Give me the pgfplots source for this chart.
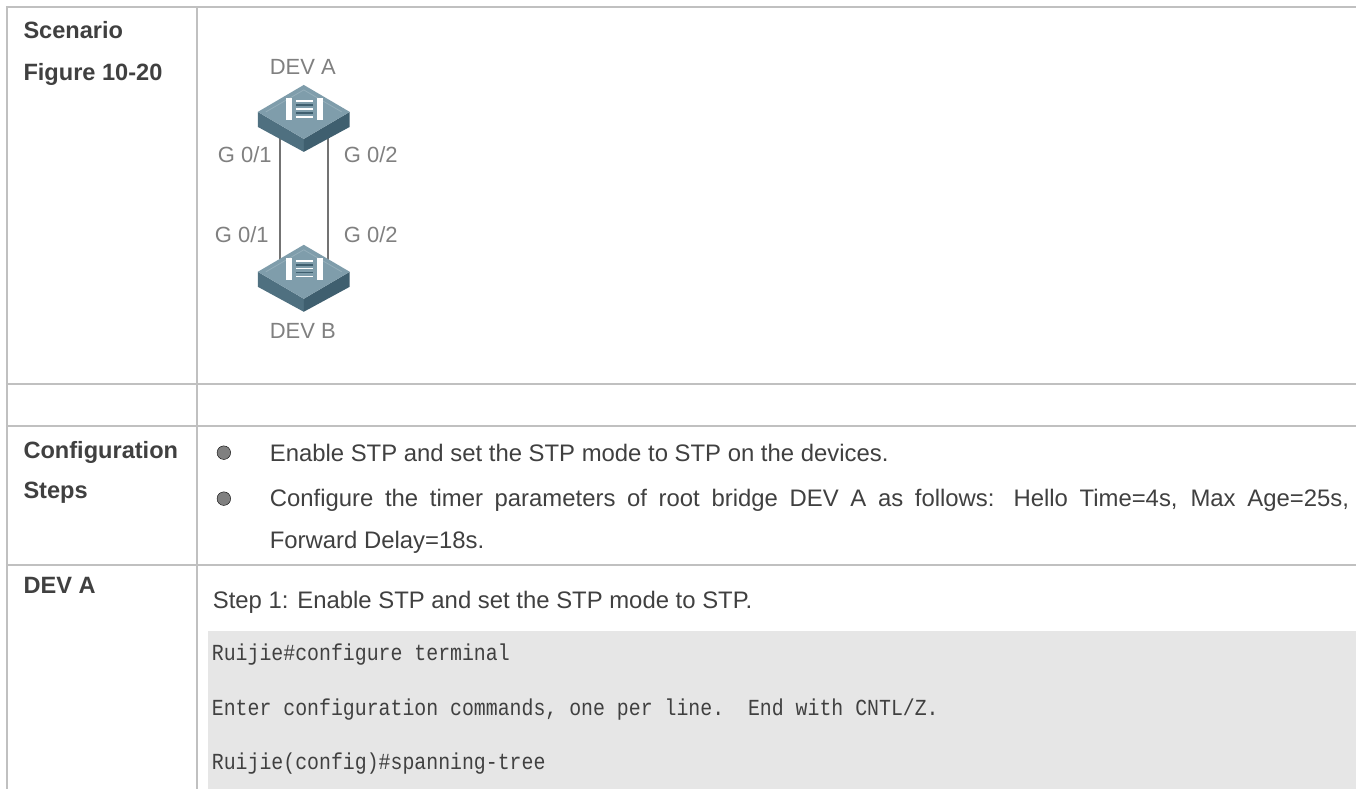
\documentclass[border=0pt]{standalone}
\usepackage{pgfplots}
\pgfplotsset{compat=1.18}
\usepackage{fontspec}
\setmainfont{Liberation Sans}
\newfontfamily\codefont[FakeStretch=0.864]{Liberation Mono}
\definecolor{rule}{HTML}{C0C0C0}
\definecolor{txt}{HTML}{404040}
\definecolor{lbl}{HTML}{808080}
\definecolor{code}{HTML}{E6E6E6}
\definecolor{swtop}{HTML}{7F9DAB}
\definecolor{swtoplight}{HTML}{94AEBA}
\definecolor{swside}{HTML}{4F7080}
\definecolor{swsidedark}{HTML}{3F5F6F}
\newcommand{\bodyfs}{\fontsize{23.9}{28}\selectfont}
\newcommand{\boldfs}{\fontsize{23.6}{28}\selectfont\bfseries}
\newcommand{\lblfs}{\fontsize{22}{25}\selectfont}
\newcommand{\codefs}{\codefont\fontsize{23}{27}\selectfont}
\begin{document}
\begin{tikzpicture}
\begin{axis}[
  scale only axis, width=1357pt, height=790pt,
  xmin=0, xmax=1357, ymin=0, ymax=790, y dir=reverse,
  hide axis, clip=false,
  every node/.style={inner sep=0pt, outer sep=0pt},
  line cap=butt
]
\addplot[draw=none, fill=white] coordinates {(0,0) (1357,0) (1357,790) (0,790)} --cycle;
% code background
\addplot[draw=none, fill=code] coordinates {(208,631) (1357,631) (1357,790) (208,790)} --cycle;
% table rules
\addplot[rule, line width=2pt] coordinates {(6,7.5) (1357,7.5)};
\addplot[rule, line width=2pt] coordinates {(6,384) (1357,384)};
\addplot[rule, line width=2pt] coordinates {(6,426) (1357,426)};
\addplot[rule, line width=2pt] coordinates {(6,565) (1357,565)};
\addplot[rule, line width=2pt] coordinates {(7,7) (7,790)};
\addplot[rule, line width=2pt] coordinates {(197,7) (197,790)};
% links
\addplot[black!55, line width=2.2pt] coordinates {(280,135) (280,262)};
\addplot[black!55, line width=2.2pt] coordinates {(328,135) (328,262)};
% switch A
\addplot[draw=none, fill=swside] coordinates {(258,112) (304,139) (304,152) (258,127)} --cycle;
\addplot[draw=none, fill=swsidedark] coordinates {(304,139) (350,112) (350,127) (304,152)} --cycle;
\addplot[draw=none, fill=swtop] coordinates {(258,112) (304,85) (350,112) (304,139)} --cycle;
\addplot[swtoplight, line width=0.8pt] coordinates {(266,112) (304,90) (342,112)};
\addplot[draw=none, fill=white] coordinates {(286,98) (292,98) (292,120) (286,120)} --cycle;
\addplot[draw=none, fill=white] coordinates {(317,98) (323,98) (323,120) (317,120)} --cycle;
\addplot[white, line width=1.4pt] coordinates {(296,101) (313,101)};
\addplot[swsidedark, line width=1.4pt] coordinates {(296,105) (313,105)};
\addplot[white, line width=1.4pt] coordinates {(296,109) (313,109)};
\addplot[swsidedark, line width=1.4pt] coordinates {(296,113) (313,113)};
\addplot[white, line width=1.4pt] coordinates {(296,117) (313,117)};
% switch B
\addplot[draw=none, fill=swside] coordinates {(258,272) (304,299) (304,312) (258,287)} --cycle;
\addplot[draw=none, fill=swsidedark] coordinates {(304,299) (350,272) (350,287) (304,312)} --cycle;
\addplot[draw=none, fill=swtop] coordinates {(258,272) (304,245) (350,272) (304,299)} --cycle;
\addplot[swtoplight, line width=0.8pt] coordinates {(266,272) (304,250) (342,272)};
\addplot[draw=none, fill=white] coordinates {(286,258) (292,258) (292,280) (286,280)} --cycle;
\addplot[draw=none, fill=white] coordinates {(317,258) (323,258) (323,280) (317,280)} --cycle;
\addplot[white, line width=1.4pt] coordinates {(296,261) (313,261)};
\addplot[swsidedark, line width=1.4pt] coordinates {(296,265) (313,265)};
\addplot[white, line width=1.4pt] coordinates {(296,269) (313,269)};
\addplot[swsidedark, line width=1.4pt] coordinates {(296,273) (313,273)};
\addplot[white, line width=1.4pt] coordinates {(296,277) (313,277)};
% bullets
\addplot[only marks, mark=*, mark size=6.8pt, mark options={draw=none, fill=lbl}] coordinates {(224,453) (224,499)};
% first column
\node[anchor=base west, text=txt] at (axis cs:20,39) {\boldfs Scenario};
\node[anchor=base west, text=txt] at (axis cs:20,80.5) {\boldfs Figure 10-20};
\node[anchor=base west, text=txt] at (axis cs:20,459) {\boldfs Configuration};
\node[anchor=base west, text=txt] at (axis cs:20,499) {\boldfs Steps};
\node[anchor=base west, text=txt] at (axis cs:20,594) {\boldfs DEV A};
% figure labels
\node[anchor=center, text=lbl] at (axis cs:303,67) {\lblfs DEV A};
\node[anchor=center, text=lbl] at (axis cs:303,331) {\lblfs DEV B};
\node[anchor=center, text=lbl] at (axis cs:245,155) {\lblfs G 0/1};
\node[anchor=center, text=lbl] at (axis cs:371,155) {\lblfs G 0/2};
\node[anchor=center, text=lbl] at (axis cs:242,235) {\lblfs G 0/1};
\node[anchor=center, text=lbl] at (axis cs:371,235) {\lblfs G 0/2};
% body
\node[anchor=base west, text=txt] at (axis cs:266.5,462) {\bodyfs Enable STP and set the STP mode to STP on the devices.};
\node[anchor=base west, text=txt] at (axis cs:266.5,507) {\bodyfs\makebox[1080pt][s]{Configure the timer parameters of root bridge DEV A as follows: Hello Time=4s, Max Age=25s,}};
\node[anchor=base west, text=txt] at (axis cs:266.5,549) {\bodyfs Forward Delay=18s.};
\node[anchor=base west, text=txt] at (axis cs:209.5,609) {\bodyfs Step 1: Enable STP and set the STP mode to STP.};
% code
\node[anchor=base west, text=txt] at (axis cs:208.5,661) {\codefs Ruijie\#configure terminal};
\node[anchor=base west, text=txt] at (axis cs:208.5,716) {\codefs Enter configuration commands, one per line.\ \ End with CNTL/Z.};
\node[anchor=base west, text=txt] at (axis cs:208.5,770.5) {\codefs Ruijie(config)\#spanning-tree};
\end{axis}
\end{tikzpicture}
\end{document}
